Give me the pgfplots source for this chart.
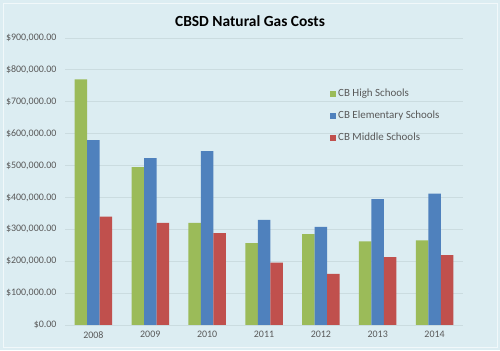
\documentclass[border=0pt]{standalone}
\usepackage{pgfplots}
\pgfplotsset{compat=1.18}
\usepackage{fontspec}
\setmainfont{Carlito}
\definecolor{bg}{HTML}{DCEDF2}
\definecolor{gridc}{HTML}{CBDCE0}
\definecolor{txt}{HTML}{595959}
\definecolor{cgreen}{HTML}{9BBB59}
\definecolor{cblue}{HTML}{4F81BD}
\definecolor{cred}{HTML}{C0504D}
\begin{document}
\begin{tikzpicture}[x=1bp,y=1bp]
\fill[bg] (0,0) rectangle (500,350);
\draw[white!60!bg, line width=0.8bp] (3,3) rectangle (497,347);
\node[font=\fontsize{15.5}{18}\selectfont\bfseries, text=black] at (250,329) {CBSD Natural Gas Costs};
\begin{axis}[
  at={(65bp,25bp)}, anchor=south west,
  scale only axis, width=398bp, height=287bp,
  xmin=-0.5, xmax=6.5, ymin=0, ymax=900000,
  ybar=0pt, bar width=12.5bp,
  xtick={0,...,6},
  xticklabels={2008,2009,2010,2011,2012,2013,2014},
  ytick={0,100000,...,900000},
  yticklabel={\$\pgfmathprintnumber[fixed,fixed zerofill,precision=2,1000 sep={,}]{\tick}},
  /pgf/number format/assume math mode=true,
  scaled y ticks=false,
  axis line style={draw=none},
  axis x line*=bottom,
  ymajorgrids, grid style={gridc, line width=0.8bp},
  major tick length=0pt,
  tick label style={font=\fontsize{10}{12}\selectfont, text=txt},
  yticklabel style={xshift=-5bp},
  xticklabel style={yshift=-3bp},
  legend style={draw=none, fill=none, at={(262bp,240bp)}, anchor=north west,
    font=\fontsize{11}{13}\selectfont, text=txt, row sep=9bp,
    legend cell align=left},
  legend image code/.code={\fill[#1] (0bp,-3bp) rectangle (6bp,3bp);},
  every axis plot/.append style={draw=none},
]
\addplot[fill=cgreen] coordinates {(0,770000) (1,495000) (2,320000) (3,257000) (4,285000) (5,262000) (6,265000)};
\addplot[fill=cblue] coordinates {(0,580000) (1,523000) (2,545000) (3,330000) (4,308000) (5,395000) (6,412000)};
\addplot[fill=cred] coordinates {(0,340000) (1,320000) (2,288000) (3,196000) (4,160000) (5,213000) (6,219000)};
\draw[gridc, line width=0.8bp] (axis cs:-0.5,0) -- (axis cs:6.5,0);
\legend{CB High Schools, CB Elementary Schools, CB Middle Schools}
\end{axis}
\end{tikzpicture}
\end{document}
